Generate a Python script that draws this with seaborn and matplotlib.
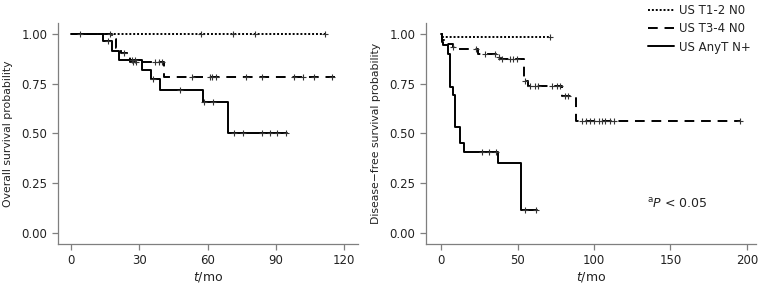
import numpy as np
import pandas as pd
import matplotlib
matplotlib.use("Agg")
import matplotlib.pyplot as plt
from matplotlib.lines import Line2D
import seaborn as sns

groups = ["US T1-2 N0", "US T3-4 N0", "US AnyT N+"]

# Overall survival (left): step times, survival after step, censor times
os_t12_time = [0, 112]
os_t12_surv = [1.0, 1.0]
os_t12_cens = [4, 57, 71, 81, 111.5]

os_t34_time = [0, 18, 19.5, 22, 26, 41, 116]
os_t34_surv = [1.0, 0.973, 0.93, 0.905, 0.857, 0.782, 0.782]
os_t34_cens = [17, 23, 27, 28.5, 37, 38.5, 40, 53, 61, 62, 63.5, 77, 84, 98, 102, 107, 115]

os_n_time = [0, 14, 18, 21, 31, 35, 39, 58, 69, 95]
os_n_surv = [1.0, 0.963, 0.913, 0.868, 0.82, 0.773, 0.72, 0.66, 0.50, 0.50]
os_n_cens = [16, 26.5, 28, 36, 48, 58.5, 62.5, 71.5, 75.5, 84, 87.5, 90.5, 94.5]

# Disease-free survival (right)
dfs_t12_time = [0, 0.4, 71]
dfs_t12_surv = [1.0, 0.983, 0.983]
dfs_t12_cens = [71]

dfs_t34_time = [0, 0.5, 3, 8, 11, 24, 36, 38, 54, 56.5, 79, 88, 196]
dfs_t34_surv = [1.0, 0.967, 0.95, 0.935, 0.922, 0.897, 0.882, 0.872, 0.765, 0.737, 0.69, 0.562, 0.562]
dfs_t34_cens = [8, 22.5, 28.5, 35, 37.5, 40, 45, 47, 49.5, 55, 58, 61.5, 63.5, 72.5, 75.5,
                78, 81, 83, 92, 95, 97.5, 100, 103, 105, 107.5, 110.5, 113, 195.5]

dfs_n_time = [0, 0.3, 1.2, 4.5, 6, 7.5, 9.2, 12.4, 15.2, 37.4, 52, 63]
dfs_n_surv = [1.0, 0.96, 0.943, 0.90, 0.735, 0.693, 0.532, 0.452, 0.408, 0.352, 0.118, 0.118]
dfs_n_cens = [26.6, 31.6, 36, 54.9, 62.1]


def build(curves):
    lines, marks = [], []
    for g, (t, s, c) in zip(groups, curves):
        lines.append(pd.DataFrame({"t": t, "surv": s, "group": g}))
        t = np.asarray(t)
        idx = np.searchsorted(t, c, side="right") - 1
        marks.append(pd.DataFrame({"t": c, "surv": np.asarray(s)[idx], "group": g}))
    return pd.concat(lines, ignore_index=True), pd.concat(marks, ignore_index=True)


os_lines, os_marks = build([(os_t12_time, os_t12_surv, os_t12_cens),
                            (os_t34_time, os_t34_surv, os_t34_cens),
                            (os_n_time, os_n_surv, os_n_cens)])
dfs_lines, dfs_marks = build([(dfs_t12_time, dfs_t12_surv, dfs_t12_cens),
                              (dfs_t34_time, dfs_t34_surv, dfs_t34_cens),
                              (dfs_n_time, dfs_n_surv, dfs_n_cens)])

sns.set_style("ticks")
plt.rcParams["font.family"] = ["DejaVu Sans"]
plt.rcParams["mathtext.fontset"] = "dejavusans"

dashes = {"US T1-2 N0": (1, 1), "US T3-4 N0": (5, 3.5), "US AnyT N+": ""}
txt = "#222222"
spine = "#7f7f7f"

fig = plt.figure(figsize=(7.73, 2.9), dpi=100)
ax1 = fig.add_axes([0.075, 0.159, 0.388, 0.762])
ax2 = fig.add_axes([0.551, 0.159, 0.427, 0.762])

for ax, lines, marks in [(ax1, os_lines, os_marks), (ax2, dfs_lines, dfs_marks)]:
    sns.lineplot(data=lines, x="t", y="surv", style="group", dashes=dashes,
                 color="black", linewidth=1.4, drawstyle="steps-post",
                 estimator=None, sort=False, legend=False, ax=ax)
    sns.scatterplot(data=marks, x="t", y="surv", marker="+", color="#333333",
                    s=20, linewidth=0.8, legend=False, ax=ax, zorder=3)
    ax.set_ylim(-0.052, 1.053)
    ax.set_yticks([0, 0.25, 0.5, 0.75, 1.0])
    ax.set_yticklabels(["0.00", "0.25", "0.50", "0.75", "1.00"])
    ax.set_xlabel(r"$\mathit{t}$/mo", fontsize=9, color=txt, labelpad=2)
    sns.despine(ax=ax)
    for side in ["left", "bottom"]:
        ax.spines[side].set_color(spine)
        ax.spines[side].set_linewidth(0.9)
    ax.tick_params(colors=spine, labelcolor=txt, labelsize=8.5, length=4, width=0.9)

ax1.set_xlim(-5.9, 126.2)
ax1.set_xticks([0, 30, 60, 90, 120])
ax1.set_ylabel("Overall survival probability", fontsize=7.8, color=txt, labelpad=6)

ax2.set_xlim(-10, 206)
ax2.set_xticks([0, 50, 100, 150, 200])
ax2.set_ylabel("Disease\u2212free survival probability", fontsize=7.8, color=txt, labelpad=6)
ax2.text(135, 0.13, r"$^{\mathrm{a}}\mathit{P}$ < 0.05", fontsize=9, color=txt)

handles = [Line2D([], [], color="black", linewidth=1.4, dashes=(1, 1)),
           Line2D([], [], color="black", linewidth=1.4, dashes=(5, 3.5)),
           Line2D([], [], color="black", linewidth=1.4)]
fig.legend(handles, groups, loc="upper left", bbox_to_anchor=(648 / 773, 1 - 4 / 290),
           frameon=False, borderpad=0, borderaxespad=0, fontsize=8.5,
           handlelength=2.2, handletextpad=0.4, labelspacing=0.45, labelcolor=txt)

fig.savefig("out.png", dpi=100)
